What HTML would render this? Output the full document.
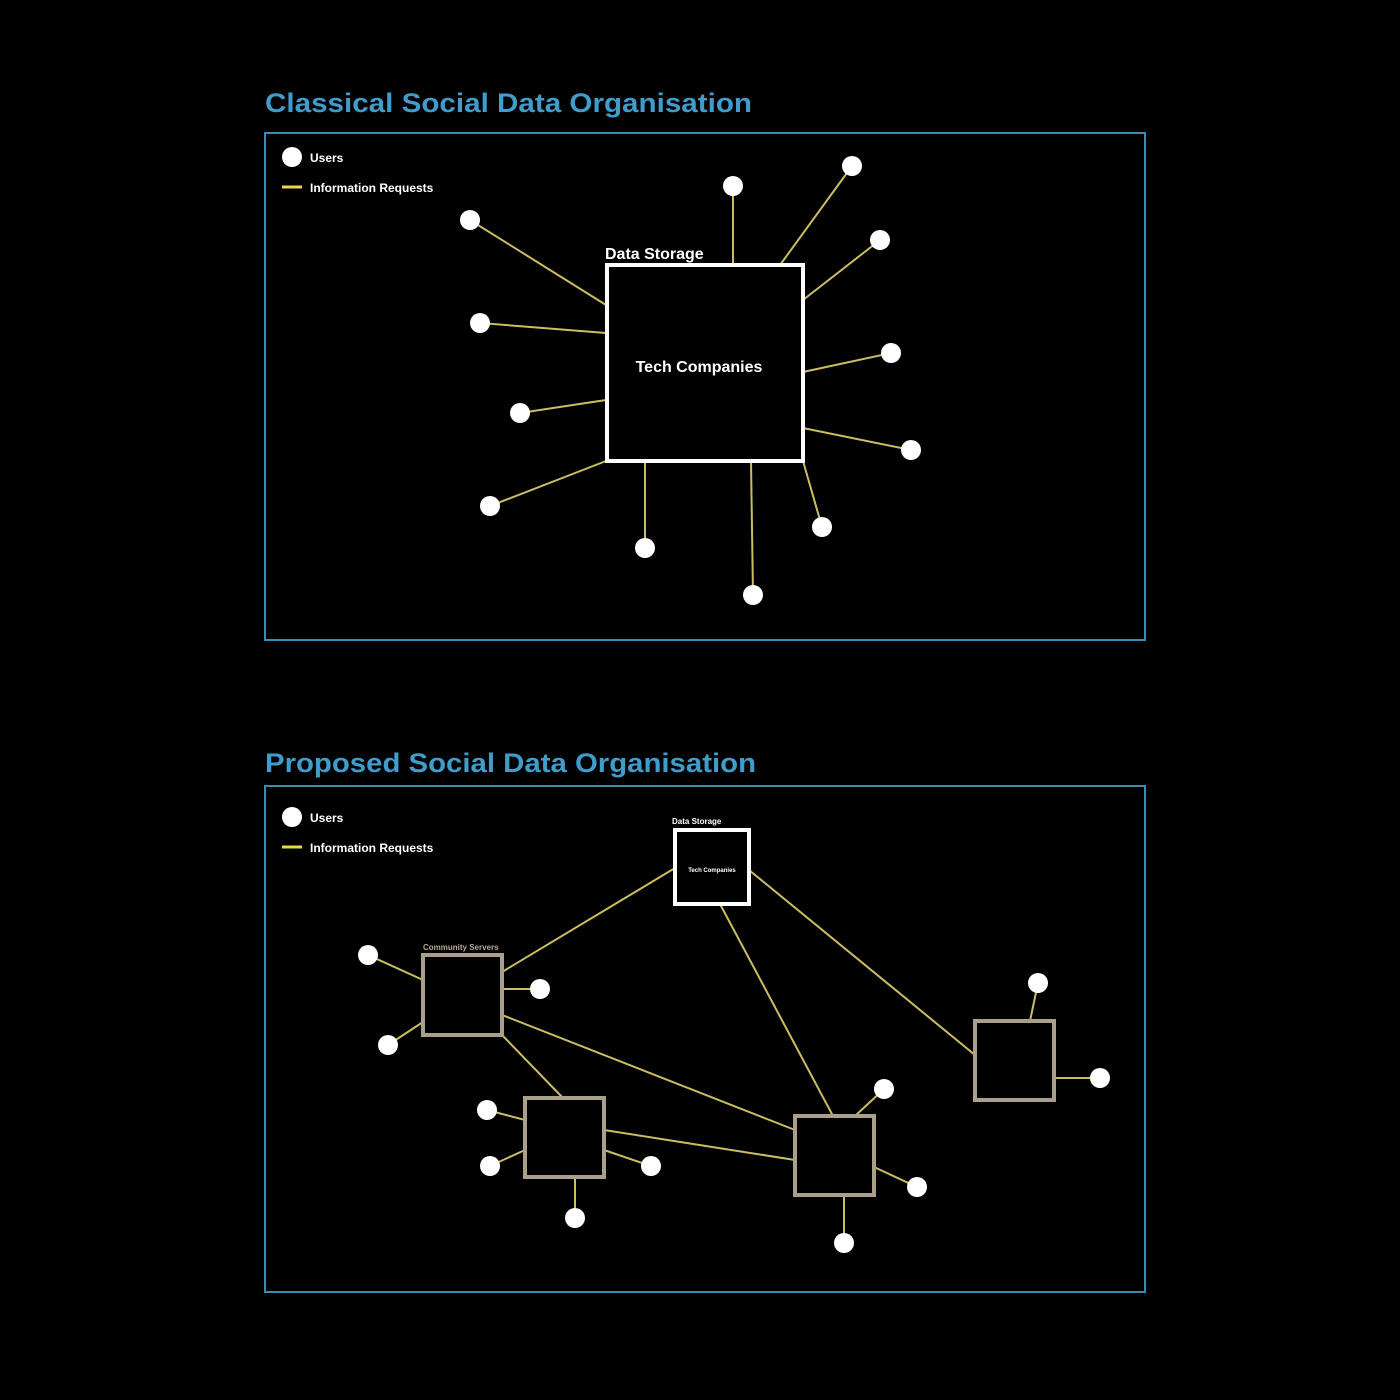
<!DOCTYPE html>
<html><head><meta charset="utf-8">
<style>
html,body{margin:0;padding:0;background:#000;}
body{width:1400px;height:1400px;overflow:hidden;font-family:"Liberation Sans",sans-serif;}
svg{display:block}
</style></head>
<body>
<svg id="chart" width="1400" height="1400" viewBox="0 0 1400 1400" xmlns="http://www.w3.org/2000/svg">
<rect width="1400" height="1400" fill="#000"/>
<text x="265" y="112" fill="#3f9ccb" font-size="27" font-weight="bold" font-family="Liberation Sans, sans-serif" textLength="487" lengthAdjust="spacingAndGlyphs">Classical Social Data Organisation</text>
<rect x="265" y="133" width="880" height="507" fill="none" stroke="#3a8db0" stroke-width="2"/>
<text x="265" y="772" fill="#3f9ccb" font-size="27" font-weight="bold" font-family="Liberation Sans, sans-serif" textLength="491" lengthAdjust="spacingAndGlyphs">Proposed Social Data Organisation</text>
<rect x="265" y="786" width="880" height="506" fill="none" stroke="#3a8db0" stroke-width="2"/>
<g id="g"></g>
</svg>
<script>
// Panel 1: central store and users [userX, userY, edgeX, edgeY]
const centralBox = [607, 265, 196, 196];
const classicalUsers = [
 [470,220,606,305],[480,323,606,333],[520,413,606,400],[490,506,606,461],
 [645,548,645,461],[753,595,751,461],[822,527,803,461],[911,450,803,428],
 [891,353,803,372],[880,240,803,300],[852,166,780,265],[733,186,733,265]
];
// Panel 2: servers [x,y,w,h,label]
const servers = [
 [675,830,74,74,"tech"],[423,955,79,80,"A"],[525,1098,79,79,"B"],
 [795,1116,79,79,"C"],[975,1021,79,79,"D"]
];
const links = [
 [675,868,502,972],[502,1015,795,1130],[502,1035,563,1098],
 [604,1130,795,1160],[720,904,833,1116],[749,870,975,1055]
];
const proposedUsers = [
 [368,955,423,980],[388,1045,423,1022],[540,989,502,989],
 [487,1110,525,1120],[490,1166,525,1150],[651,1166,604,1150],[575,1218,575,1177],
 [884,1089,855,1116],[917,1187,874,1167],[844,1243,844,1195],
 [1038,983,1030,1021],[1100,1078,1054,1078]
];
const NS="http://www.w3.org/2000/svg";
const g=document.getElementById('g');
function mk(t,a){const e=document.createElementNS(NS,t);for(const k in a)e.setAttribute(k,a[k]);g.appendChild(e);return e;}
function txt(x,y,s,size,fill,anchor){const e=mk('text',{x:x,y:y,fill:fill,'font-size':size,'font-weight':'bold','font-family':'Liberation Sans, sans-serif','text-anchor':anchor||'start'});e.textContent=s;return e;}
const LINE="#cbbd62";
[[157,187],[817,847]].forEach(function(p,i){
 const c=mk('circle',{cx:292,cy:p[0],r:10,fill:'#fff'});
 
 
 const t=txt(310,p[0]+5,'Users',12,'#fff');
 
 
 const l=mk('line',{x1:282,y1:p[1],x2:302,y2:p[1],stroke:'#e5d84a','stroke-width':3});
 
 
 const t2=txt(310,p[1]+5,'Information Requests',12,'#fff');
 
 
});
classicalUsers.forEach(function(u){
 const l=mk('line',{x1:u[0],y1:u[1],x2:u[2],y2:u[3],stroke:LINE,'stroke-width':2});
 
 
});
const cb=mk('rect',{x:centralBox[0],y:centralBox[1],width:centralBox[2],height:centralBox[3],fill:'#000',stroke:'#fff','stroke-width':4});


const ds=txt(605,259,'Data Storage',16,'#fff');


const tc=txt(699,372,'Tech Companies',16,'#fff','middle');


classicalUsers.forEach(function(u){
 const c=mk('circle',{cx:u[0],cy:u[1],r:10,fill:'#fff'});
 
 
});
links.concat(proposedUsers).forEach(function(u){
 const l=mk('line',{x1:u[0],y1:u[1],x2:u[2],y2:u[3],stroke:LINE,'stroke-width':2});
 
 
});
servers.forEach(function(s){
 const isTech=s[4]==='tech';
 const r=mk('rect',{x:s[0],y:s[1],width:s[2],height:s[3],fill:'#000',stroke:isTech?'#fff':'#a99f8b','stroke-width':4});
 
 
});
const ds2=txt(672,824,'Data Storage',8,'#fff');


const tc2=txt(712,872,'Tech Companies',6,'#fff','middle');


const cs=txt(423,950,'Community Servers',8,'#b5ab95');


proposedUsers.forEach(function(u){
 const c=mk('circle',{cx:u[0],cy:u[1],r:10,fill:'#fff'});
 
 
});
</script>
</body></html>
